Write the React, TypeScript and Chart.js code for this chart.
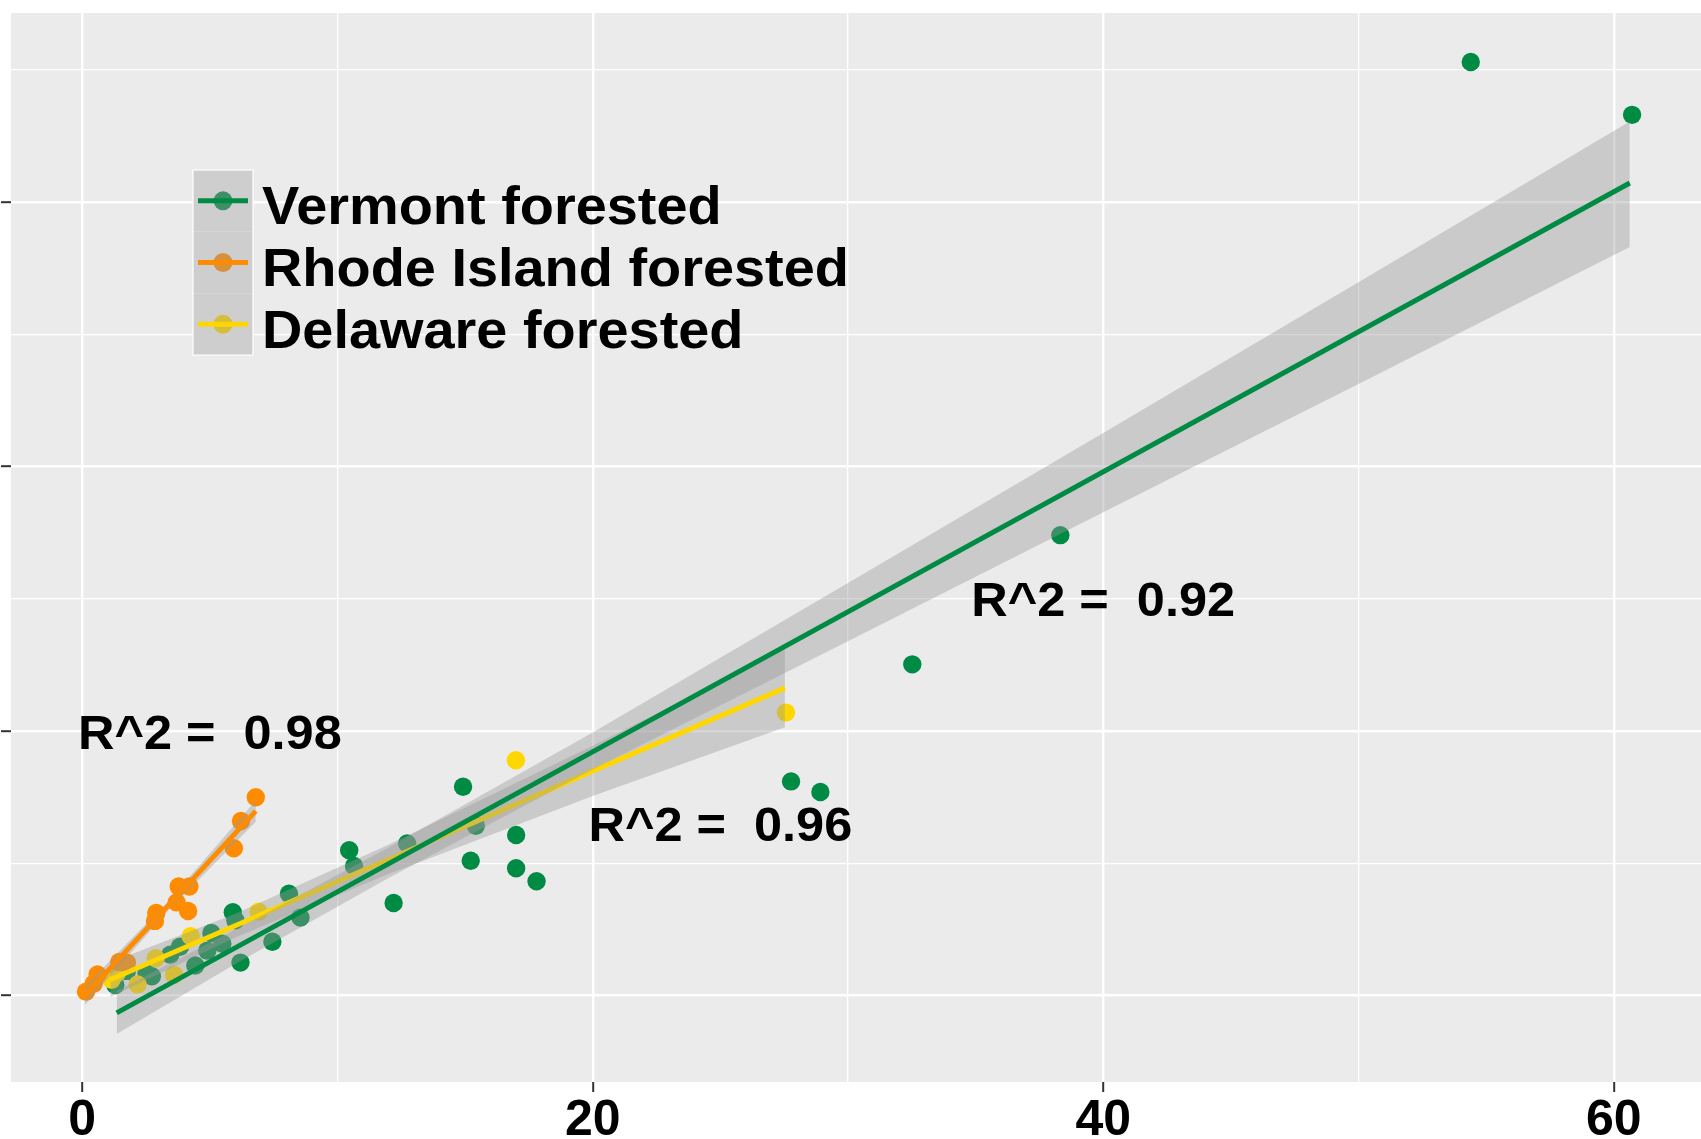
import React, { useEffect, useRef } from "react";
import { Chart, registerables } from "chart.js";

Chart.register(...registerables);

const W = 1701;
const H = 1139;
const FONT = '"Liberation Sans", Arial, sans-serif';

// ---------- data ----------
const seriesNames = ["Vermont forested", "Rhode Island forested", "Delaware forested"];
const seriesColors = ["#008B45", "#FF8C00", "#FFD700"];

const vermontX = [1.3, 1.75, 2.52, 2.73, 3.45, 3.83, 4.43, 4.9, 5.06, 5.49, 5.9, 6.0, 6.2, 7.45, 8.1, 8.55, 10.46, 10.65, 12.2, 12.73, 14.92, 15.22, 15.42, 17.0, 17.0, 17.8, 27.77, 28.92, 32.52, 38.32, 54.4, 60.72];
const vermontY = [0.8, 1.87, 1.69, 1.47, 3.1, 3.7, 2.28, 3.4, 4.74, 3.92, 6.3, 5.7, 2.5, 4.08, 7.7, 5.9, 11.0, 9.8, 7.0, 11.5, 15.8, 10.2, 12.85, 12.15, 9.63, 8.65, 16.2, 15.4, 25.05, 34.82, 70.6, 66.6];

const rhodeX = [0.15, 0.45, 0.6, 1.45, 1.75, 2.85, 2.9, 3.7, 3.78, 4.2, 4.15, 5.94, 6.22, 6.8];
const rhodeY = [0.3, 0.9, 1.6, 2.55, 2.5, 5.65, 6.25, 7.05, 8.25, 8.25, 6.4, 11.15, 13.2, 15.0];

const delawareX = [1.15, 1.35, 2.17, 2.88, 3.6, 4.25, 6.91, 16.99, 27.57];
const delawareY = [1.2, 1.7, 0.85, 2.83, 1.57, 4.5, 6.35, 17.8, 21.4];

// fitted lines and confidence bands
const vermontFitX = [1.35, 60.63];
const vermontFitY = [-1.3, 61.45];
const vermontBandX = [1.35, 6, 12, 20, 30, 40, 50, 60.63];
const vermontBandHi = [0.35, 5.0, 11.2, 19.9, 31.2, 42.55, 53.95, 66.1];
const vermontBandLo = [-2.9, 2.4, 8.9, 17.1, 26.8, 36.55, 46.25, 56.6];

const rhodeFitX = [0.1, 6.8];
const rhodeFitY = [0.0, 13.95];
const rhodeBandX = [0.1, 3.4, 6.8];
const rhodeBandHi = [0.7, 7.2, 14.75];
const rhodeBandLo = [-0.7, 6.5, 13.15];

const delawareFitX = [1.1, 27.53];
const delawareFitY = [1.2, 23.27];
const delawareBandX = [1.1, 6, 12, 20, 27.53];
const delawareBandHi = [2.5, 6.2, 11.4, 18.9, 26.2];
const delawareBandLo = [-0.1, 4.4, 9.2, 15.1, 20.3];

// annotations
const annotX = [5, 25, 40];
const annotY = [20, 13, 30];
const annotText = ["R^2 =  0.98", "R^2 =  0.96", "R^2 =  0.92"];

// axes
const xTicks = [0, 10, 20, 30, 40, 50, 60];
const xMajor = [0, 20, 40, 60];
const yTicks = [0, 10, 20, 30, 40, 50, 60, 70];
const yMajor = [0, 20, 40, 60];

const BAND_FILL = "rgba(153,153,153,0.4)";
const CLEAR = "rgba(0,0,0,0)";

function pts(xs: number[], ys: number[]) {
  return xs.map((x, i) => ({ x, y: ys[i] }));
}

const panelPlugin = {
  id: "panelBg",
  beforeDraw(chart: any) {
    const { ctx, chartArea } = chart;
    ctx.save();
    ctx.fillStyle = "#EBEBEB";
    ctx.fillRect(chartArea.left, chartArea.top, chartArea.right - chartArea.left, chartArea.bottom - chartArea.top);
    ctx.restore();
  },
  afterDatasetsDraw(chart: any) {
    const { ctx } = chart;
    const xs = chart.scales.x;
    const ys = chart.scales.y;
    const size = 49;
    const stretch = 1.03;
    annotText.forEach((t, i) => {
      const px = xs.getPixelForValue(annotX[i]);
      const py = ys.getPixelForValue(annotY[i]);
      ctx.save();
      ctx.translate(px, py + (size * 0.716) / 2);
      ctx.scale(stretch, 1);
      ctx.font = `bold ${size}px ${FONT}`;
      ctx.fillStyle = "#000000";
      ctx.textAlign = "center";
      ctx.textBaseline = "alphabetic";
      ctx.fillText(t, 0, 0);
      ctx.restore();
    });
  },
  afterDraw(chart: any) {
    const { ctx } = chart;
    const x0 = 193;
    const x1 = 253;
    const top = 170;
    const rowH = 61.7;
    seriesNames.forEach((name, i) => {
      const y0 = top + i * rowH;
      const cy = y0 + rowH / 2;
      ctx.save();
      ctx.fillStyle = "#F2F2F2";
      ctx.fillRect(x0, y0, x1 - x0, rowH);
      ctx.fillStyle = seriesColors[i];
      ctx.beginPath();
      ctx.arc((x0 + x1) / 2, cy, 9.5, 0, Math.PI * 2);
      ctx.fill();
      ctx.fillStyle = BAND_FILL;
      ctx.fillRect(x0, y0, x1 - x0, rowH);
      ctx.strokeStyle = seriesColors[i];
      ctx.lineWidth = 5;
      ctx.beginPath();
      ctx.moveTo(x0 + 5, cy);
      ctx.lineTo(x1 - 5, cy);
      ctx.stroke();
      ctx.restore();
      ctx.save();
      ctx.translate(262, cy + 23.5);
      ctx.scale(1.035, 1);
      ctx.fillStyle = "#000000";
      ctx.font = `bold 54px ${FONT}`;
      ctx.textAlign = "left";
      ctx.textBaseline = "alphabetic";
      ctx.fillText(name, 0, 0);
      ctx.restore();
    });
    ctx.save();
    ctx.strokeStyle = "rgba(255,255,255,0.8)";
    ctx.lineWidth = 1.5;
    ctx.strokeRect(x0, top, x1 - x0, rowH * 3);
    ctx.restore();
  },
};

export default function App() {
  const ref = useRef<HTMLCanvasElement | null>(null);

  useEffect(() => {
    document.body.style.margin = "0";
    document.body.style.overflow = "hidden";
    const canvas = ref.current;
    if (!canvas) return;

    const scatter = (xs: number[], ys: number[], color: string, order: number) => ({
      type: "scatter" as const,
      data: pts(xs, ys),
      backgroundColor: color,
      borderColor: color,
      pointRadius: 9.2,
      pointBorderWidth: 0,
      pointHoverRadius: 9.2,
      order,
    });
    const bandHi = (xs: number[], ys: number[], order: number) => ({
      type: "line" as const,
      data: pts(xs, ys),
      borderColor: CLEAR,
      borderWidth: 0,
      pointRadius: 0,
      backgroundColor: BAND_FILL,
      fill: "+1",
      order,
    });
    const bandLo = (xs: number[], ys: number[], order: number) => ({
      type: "line" as const,
      data: pts(xs, ys),
      borderColor: CLEAR,
      borderWidth: 0,
      pointRadius: 0,
      backgroundColor: CLEAR,
      fill: false,
      order,
    });
    const fit = (xs: number[], ys: number[], color: string, order: number) => ({
      type: "line" as const,
      data: pts(xs, ys),
      borderColor: color,
      borderWidth: 5,
      pointRadius: 0,
      fill: false,
      order,
    });

    const isMajorX = (c: any) => c.tick && xMajor.includes(c.tick.value);
    const isMajorY = (c: any) => c.tick && yMajor.includes(c.tick.value);

    const chart = new Chart(canvas, {
      type: "scatter",
      data: {
        datasets: [
          scatter(vermontX, vermontY, seriesColors[0], 100),
          scatter(delawareX, delawareY, seriesColors[2], 99),
          scatter(rhodeX, rhodeY, seriesColors[1], 98),
          bandHi(delawareBandX, delawareBandHi, 60),
          bandLo(delawareBandX, delawareBandLo, 60),
          fit(delawareFitX, delawareFitY, seriesColors[2], 55),
          bandHi(rhodeBandX, rhodeBandHi, 50),
          bandLo(rhodeBandX, rhodeBandLo, 50),
          fit(rhodeFitX, rhodeFitY, seriesColors[1], 45),
          bandHi(vermontBandX, vermontBandHi, 40),
          bandLo(vermontBandX, vermontBandLo, 40),
          fit(vermontFitX, vermontFitY, seriesColors[0], 35),
        ] as any,
      },
      options: {
        responsive: false,
        animation: false,
        events: [],
        layout: { autoPadding: false, padding: { top: 13, left: 0, right: 0, bottom: 0 } },
        plugins: {
          legend: { display: false },
          tooltip: { enabled: false },
        },
        scales: {
          x: {
            type: "linear",
            min: -2.79,
            max: 63.42,
            afterBuildTicks: (s: any) => {
              s.ticks = xTicks.map((v) => ({ value: v }));
            },
            afterFit: (s: any) => {
              s.height = 57;
              s.paddingLeft = 0;
              s.paddingRight = 0;
            },
            border: { display: false },
            grid: {
              color: "#FFFFFF",
              lineWidth: (c: any) => (isMajorX(c) ? 2.4 : 1.3),
              tickColor: (c: any) => (isMajorX(c) ? "#333333" : CLEAR),
              tickWidth: 2,
              tickLength: 10,
              drawTicks: true,
            },
            ticks: {
              autoSkip: false,
              maxRotation: 0,
              padding: 4,
              color: "#000000",
              font: { family: FONT, size: 50, weight: "bold", lineHeight: 1 },
              callback: (v: any) => (xMajor.includes(Number(v)) ? String(v) : ""),
            },
          },
          y: {
            type: "linear",
            min: -6.53,
            max: 74.3,
            afterBuildTicks: (s: any) => {
              s.ticks = yTicks.map((v) => ({ value: v }));
            },
            afterFit: (s: any) => {
              s.width = 11;
              s.paddingTop = 0;
              s.paddingBottom = 0;
            },
            border: { display: false },
            grid: {
              color: "#FFFFFF",
              lineWidth: (c: any) => (isMajorY(c) ? 2.4 : 1.3),
              tickColor: (c: any) => (isMajorY(c) ? "#333333" : CLEAR),
              tickWidth: 2,
              tickLength: 10,
              drawTicks: true,
            },
            ticks: {
              padding: 0,
              font: { family: FONT, size: 10 },
              callback: () => "",
            },
          },
        },
      } as any,
      plugins: [panelPlugin],
    });

    return () => {
      chart.destroy();
    };
  }, []);

  return (
    <div style={{ position: "absolute", left: 0, top: 0, width: W, height: H }}>
      <canvas ref={ref} width={W} height={H} style={{ display: "block", width: W, height: H }} />
    </div>
  );
}
